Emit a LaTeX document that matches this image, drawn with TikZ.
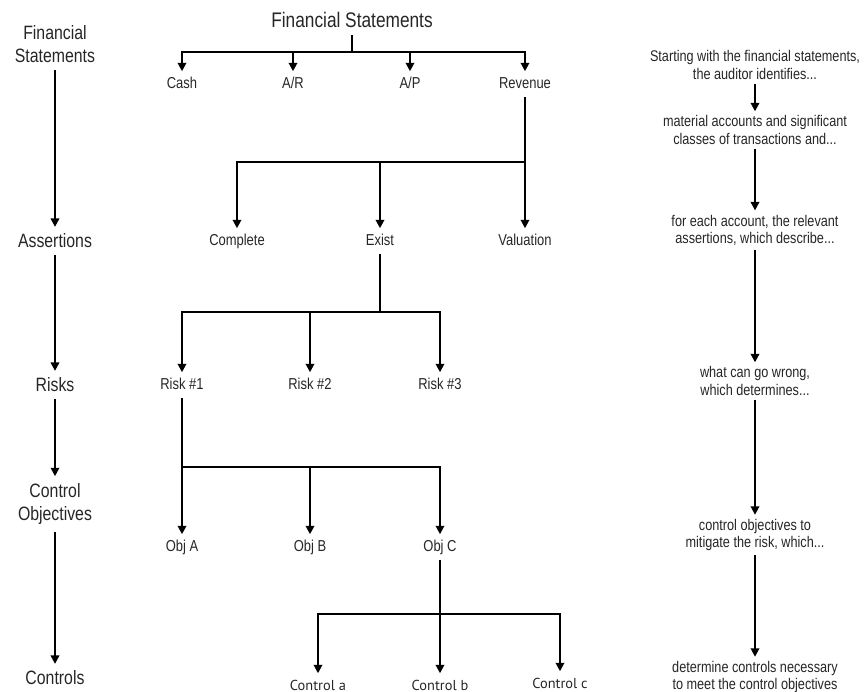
\documentclass[tikz,border=0pt]{standalone}
\usepackage{fontspec}
\setmainfont[FakeStretch=0.82]{Liberation Sans}
\newfontfamily\ctrlfont{PT Sans}
\usetikzlibrary{arrows.meta}
\begin{document}
\begin{tikzpicture}[x=0.02cm, y=-0.02cm,
    every node/.style={text=black!85, inner sep=0pt},
    head/.style={font=\fontsize{11}{13.4}\selectfont, align=center, outer sep=4pt},
    item/.style={font=\fontsize{9}{10}\selectfont, text height=6.6pt, text depth=1.9pt, outer sep=3pt},
    ctl/.style={item, font=\ctrlfont\fontsize{8.2}{10}\selectfont},
    note/.style={font=\fontsize{8.8}{9.8}\selectfont, align=center, outer sep=2.5pt},
    link/.style={line width=1.1pt, draw=black},
    arr/.style={link, -{Triangle[width=4.8pt,length=4.8pt]}}]
    \useasboundingbox (0,0) rectangle (866,692);

    % Financial statements and accounts
    \node[head, font=\fontsize{12}{14}\selectfont] (fs) at (352,20) {Financial Statements};
    \node[item] (cash) at (182,84) {Cash};
    \node[item] (ar) at (293,84) {A/R};
    \node[item] (ap) at (410,84) {A/P};
    \node[item] (rev) at (525,84) {Revenue};
    \coordinate (j1) at (352,52);
    \draw[link] (fs) -- (j1);
    \foreach \n in {cash,ar,ap,rev} \draw[arr] (j1) -| (\n);

    % Assertions
    \node[item] (compl) at (237,241) {Complete};
    \node[item] (exist) at (380,241) {Exist};
    \node[item] (valu) at (525,241) {Valuation};
    \coordinate (j2) at (525,162);
    \draw[link] (rev) -- (j2);
    \foreach \n in {compl,exist,valu} \draw[arr] (j2) -| (\n);

    % Risks
    \node[item] (risk1) at (182,385) {Risk \#1};
    \node[item] (risk2) at (310,385) {Risk \#2};
    \node[item] (risk3) at (440,385) {Risk \#3};
    \coordinate (j3) at (380,312);
    \draw[link] (exist) -- (j3);
    \foreach \n in {risk1,risk2,risk3} \draw[arr] (j3) -| (\n);

    % Control objectives
    \node[item] (obja) at (182,547) {Obj A};
    \node[item] (objb) at (310,547) {Obj B};
    \node[item] (objc) at (440,547) {Obj C};
    \coordinate (j4) at (182,467);
    \draw[link] (risk1) -- (j4);
    \foreach \n in {obja,objb,objc} \draw[arr] (j4) -| (\n);

    % Controls
    \node[ctl] (ctla) at (318,686) {Control a};
    \node[ctl] (ctlb) at (440,686) {Control b};
    \node[ctl] (ctlc) at (560,684) {Control c};
    \coordinate (j5) at (440,614);
    \draw[link] (objc) -- (j5);
    \foreach \n in {ctla,ctlb,ctlc} \draw[arr] (j5) -| (\n);

    % Levels on the left
    \node[head] (lfs) at (55,44) {Financial\\Statements};
    \node[head] (lass) at (55,241) {Assertions};
    \node[head] (lrisk) at (55,385) {Risks};
    \node[head] (lobj) at (55,504) {Control\\Objectives};
    \node[head] (lctl) at (55,678) {Controls};
    \foreach \a/\b in {lfs/lass,lass/lrisk,lrisk/lobj,lobj/lctl} \draw[arr] (\a) -- (\b);

    % Explanation on the right
    \node[note] (n1) at (755,65) {Starting with the financial statements,\\the auditor identifies...};
    \node[note] (n2) at (755,130) {material accounts and significant\\classes of transactions and...};
    \node[note] (n3) at (755,230) {for each account, the relevant\\assertions, which describe...};
    \node[note] (n4) at (755,381) {what can go wrong,\\which determines...};
    \node[note] (n5) at (755,535) {control objectives to\\mitigate the risk, which...};
    \node[note] (n6) at (755,677) {determine controls necessary\\to meet the control objectives};
    \foreach \a/\b in {n1/n2,n2/n3,n3/n4,n4/n5,n5/n6} \draw[arr] (\a) -- (\b);
\end{tikzpicture}
\end{document}
